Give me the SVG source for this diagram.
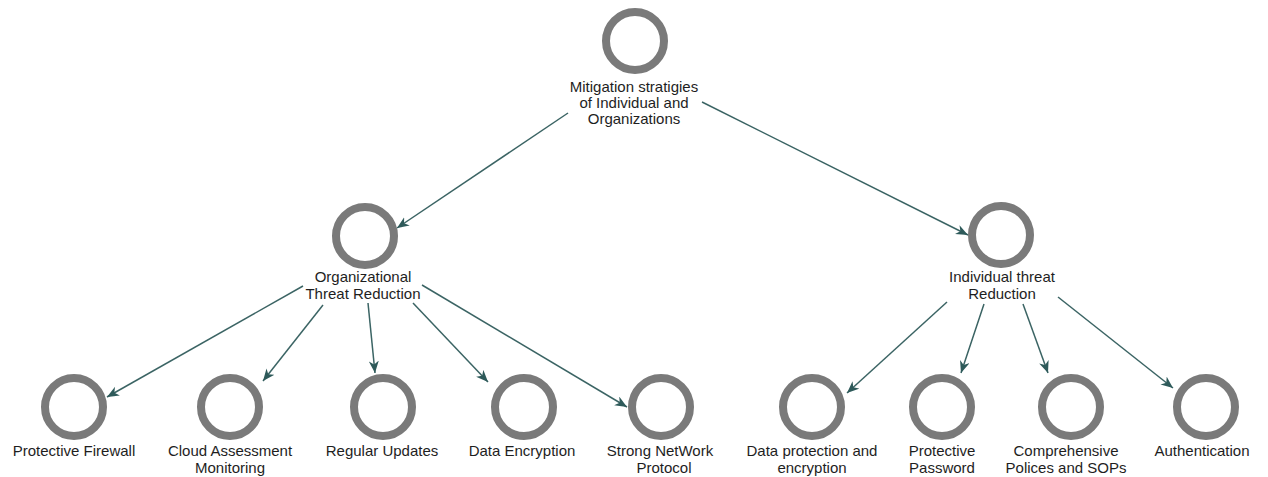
<svg xmlns="http://www.w3.org/2000/svg" width="1268" height="477" viewBox="0 0 1268 477">
  <style>
    .ring { fill: #ffffff; stroke: #7a7a7a; stroke-width: 8; }
    .lbl { font-family: "Liberation Sans", Arial, sans-serif; font-size: 15px; fill: #1e1e1e; text-anchor: middle; }
    .edge { stroke: #3b6464; stroke-width: 1.5; fill: none; marker-end: url(#arrow); }
  </style>
  <defs>
    <marker id="arrow" markerUnits="userSpaceOnUse" markerWidth="13" markerHeight="11" refX="12" refY="5" orient="auto">
      <path d="M0,0 L12,5 L0,10 L3.5,5 Z" fill="#2e5a5a"/>
    </marker>
  </defs>
  <rect width="1268" height="477" fill="#ffffff"/>

  <g id="connectors">
    <line class="edge" x1="568" y1="113" x2="397" y2="228"/>
    <line class="edge" x1="702" y1="102" x2="968" y2="235"/>
    <line class="edge" x1="303" y1="286" x2="107" y2="397"/>
    <line class="edge" x1="323" y1="305" x2="263" y2="381"/>
    <line class="edge" x1="368" y1="303" x2="375" y2="373"/>
    <line class="edge" x1="413" y1="303" x2="488" y2="382"/>
    <line class="edge" x1="422" y1="285" x2="627" y2="407"/>
    <line class="edge" x1="947" y1="302" x2="847" y2="393"/>
    <line class="edge" x1="984" y1="304" x2="961" y2="373"/>
    <line class="edge" x1="1023" y1="304" x2="1048" y2="373"/>
    <line class="edge" x1="1058" y1="297" x2="1173" y2="388"/>
  </g>

  <g id="root">
    <circle class="ring" cx="635" cy="41" r="29"/>
    <text class="lbl" x="634" y="92">Mitigation stratigies</text>
    <text class="lbl" x="634" y="108">of Individual and</text>
    <text class="lbl" x="634" y="124">Organizations</text>
  </g>

  <g id="org">
    <circle class="ring" cx="365" cy="236" r="29"/>
    <text class="lbl" x="363" y="282">Organizational</text>
    <text class="lbl" x="363" y="299">Threat Reduction</text>
  </g>

  <g id="ind">
    <circle class="ring" cx="1001" cy="235" r="29"/>
    <text class="lbl" x="1002" y="282">Individual threat</text>
    <text class="lbl" x="1002" y="299">Reduction</text>
  </g>

  <g id="firewall">
    <circle class="ring" cx="74" cy="407" r="29"/>
    <text class="lbl" x="74" y="456">Protective Firewall</text>
  </g>

  <g id="cloud">
    <circle class="ring" cx="230" cy="407" r="29"/>
    <text class="lbl" x="230" y="456">Cloud Assessment</text>
    <text class="lbl" x="230" y="473">Monitoring</text>
  </g>

  <g id="updates">
    <circle class="ring" cx="383" cy="407" r="29"/>
    <text class="lbl" x="382" y="456">Regular Updates</text>
  </g>

  <g id="encryption">
    <circle class="ring" cx="524" cy="407" r="29"/>
    <text class="lbl" x="522" y="456">Data Encryption</text>
  </g>

  <g id="network">
    <circle class="ring" cx="661" cy="407" r="29"/>
    <text class="lbl" x="660" y="456">Strong NetWork</text>
    <text class="lbl" x="664" y="473">Protocol</text>
  </g>

  <g id="dataprotection">
    <circle class="ring" cx="812" cy="407" r="29"/>
    <text class="lbl" x="812" y="456">Data protection and</text>
    <text class="lbl" x="812" y="473">encryption</text>
  </g>

  <g id="password">
    <circle class="ring" cx="942" cy="407" r="29"/>
    <text class="lbl" x="942" y="456">Protective</text>
    <text class="lbl" x="942" y="473">Password</text>
  </g>

  <g id="policies">
    <circle class="ring" cx="1071" cy="407" r="29"/>
    <text class="lbl" x="1066" y="456">Comprehensive</text>
    <text class="lbl" x="1066" y="473">Polices and SOPs</text>
  </g>

  <g id="authentication">
    <circle class="ring" cx="1206" cy="407" r="29"/>
    <text class="lbl" x="1202" y="456">Authentication</text>
  </g>
</svg>
